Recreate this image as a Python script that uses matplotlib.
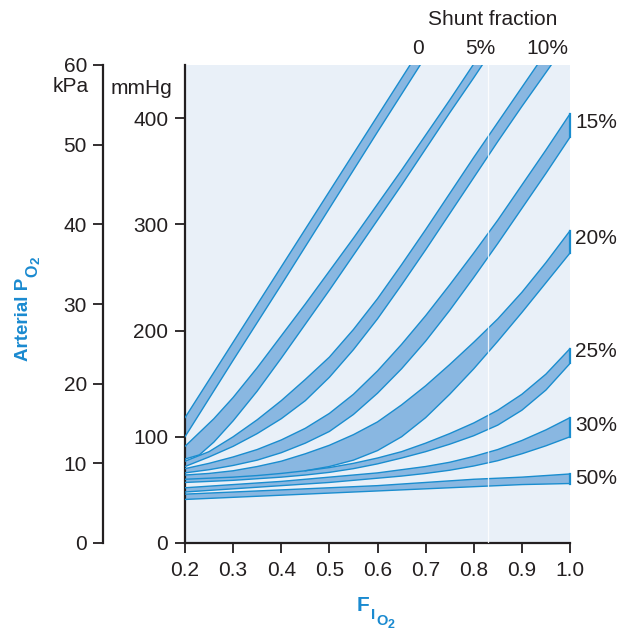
import numpy as np
import matplotlib
matplotlib.use("Agg")
import matplotlib.pyplot as plt

plt.rcParams['font.family'] = ['Liberation Sans', 'DejaVu Sans']

# inspired O2 fraction grids
FIO2 = [0.2, 0.3, 0.4, 0.5, 0.6, 0.7, 0.8, 0.9, 1.0]
FIO2_FINE = [0.2, 0.25, 0.3, 0.35, 0.4, 0.45, 0.5, 0.55, 0.6,
             0.65, 0.7, 0.75, 0.8, 0.85, 0.9, 0.95, 1.0]

# arterial PO2 (mmHg), upper and lower edge of each shunt band
shunt0_x = [0.2, 0.3, 0.4, 0.5, 0.6, 0.7]
shunt0_hi = [118, 189, 260, 331, 402, 473]
shunt0_lo = [100, 172, 243, 315, 387, 458]

shunt5_x = [0.2, 0.23, 0.26, 0.3, 0.35, 0.4, 0.45, 0.5, 0.55, 0.6, 0.65, 0.7, 0.75, 0.8, 0.85, 0.9]
shunt5_hi = [91, 104, 117, 137, 165, 195, 225, 256, 287, 319, 351, 384, 417, 451, 485, 520]
shunt5_lo = [79, 83, 95, 115, 143, 174, 206, 238, 271, 304, 337, 371, 405, 438, 472, 506]

shunt10_hi = [77, 86, 100, 116, 134, 154, 175, 201, 230, 262, 295, 329, 363, 396, 429, 462, 494]
shunt10_lo = [72, 81, 91, 103, 117, 134, 156, 182, 211, 243, 276, 310, 344, 378, 411, 443, 475]

shunt15_hi = [70, 75, 81, 88, 97, 108, 122, 140, 162, 187, 214, 243, 273, 304, 337, 370, 404]
shunt15_lo = [66, 69, 73, 78, 85, 94, 105, 121, 141, 164, 190, 219, 250, 282, 315, 348, 382]

shunt20_hi = [64, 65.5, 68, 72, 77, 84, 92, 102, 114, 130, 148, 168, 189, 211, 236, 264, 294]
shunt20_lo = [60, 61, 62, 63.5, 65.5, 68, 72, 78, 87, 100, 118, 140, 164, 190, 217, 245, 273]

shunt25_hi = [61, 62, 63, 64, 66, 68, 71, 75, 80, 86, 94, 103, 113, 125, 140, 159, 183]
shunt25_lo = [57, 58, 59, 60.5, 62, 64, 66.5, 70, 74.5, 80, 86, 93, 101, 111, 125, 144, 169]
# visible upper edge of the 25% band only starts here
shunt25_edge_x = [0.45, 0.5, 0.55, 0.6, 0.65, 0.7, 0.75, 0.8, 0.85, 0.9, 0.95, 1.0]
shunt25_edge_y = [68, 71, 75, 80, 86, 94, 103, 113, 125, 140, 159, 183]

shunt30_hi = [52, 53.5, 55, 56.5, 58, 60, 62, 64, 66, 69, 72, 76, 81.5, 88, 96.5, 106.5, 118]
shunt30_lo = [48, 49.5, 51, 52.5, 54, 55.5, 57, 59, 61, 63, 65.5, 68.5, 72.5, 77.5, 84, 91.5, 100]

shunt50_hi = [46, 48, 50, 52, 54, 57, 60, 62, 65]
shunt50_lo = [41, 43, 45, 47, 49, 51, 53, 55, 56]

top_labels = ['0', '5%', '10%']
top_label_x = [0.684, 0.813, 0.954]
right_labels = ['15%', '20%', '25%', '30%', '50%']
right_label_y = [396, 287, 180, 111, 61]

FILL = '#89B7E1'
EDGE = '#1A8DCF'
BG = '#E9F0F8'
INK = '#231F20'
LABEL = '#1A8AD0'
FS = 15

fig = plt.figure(figsize=(6.19, 6.30), dpi=100)
W, H = 619.0, 630.0
ax = fig.add_axes([185 / W, 1 - 543 / H, 385 / W, 478 / H])
ax.set_facecolor(BG)
ax.set_xlim(0.2, 1.0)
ax.set_ylim(0, 450)


def band(x, lo, hi, draw_hi=True):
    ax.fill_between(x, lo, hi, facecolor=FILL, edgecolor='none', zorder=2)
    ax.plot(x, lo, color=EDGE, lw=1.0, zorder=3, solid_joinstyle='round')
    if draw_hi:
        ax.plot(x, hi, color=EDGE, lw=1.0, zorder=3, solid_joinstyle='round')
    if x[-1] == 1.0 and hi[-1] < 450:
        ax.plot([1.0, 1.0], [lo[-1], hi[-1]], color=EDGE, lw=1.6, zorder=3, clip_on=False)


band(shunt0_x, shunt0_lo, shunt0_hi)
band(shunt5_x, shunt5_lo, shunt5_hi)
band(FIO2_FINE, shunt10_lo, shunt10_hi)
band(FIO2_FINE, shunt15_lo, shunt15_hi)
band(FIO2_FINE, shunt20_lo, shunt20_hi)
band(FIO2_FINE, shunt25_lo, shunt25_hi, draw_hi=False)
ax.plot(shunt25_edge_x, shunt25_edge_y, color=EDGE, lw=1.0, zorder=3)
band(FIO2_FINE, shunt30_lo, shunt30_hi)
band(FIO2, shunt50_lo, shunt50_hi)

# faint white seam through the bands
ax.axvline(0.83, color='white', lw=0.9, alpha=0.85, zorder=4)

for s in ['top', 'right']:
    ax.spines[s].set_visible(False)
for s in ['left', 'bottom']:
    ax.spines[s].set_linewidth(1.6)
    ax.spines[s].set_color(INK)
ax.set_xticks(FIO2)
ax.set_xticklabels(['0.2', '0.3', '0.4', '0.5', '0.6', '0.7', '0.8', '0.9', '1.0'])
ax.set_yticks([0, 100, 200, 300, 400])
ax.tick_params(axis='both', direction='out', length=7, width=1.3, color=INK,
               labelsize=FS, labelcolor=INK)
ax.tick_params(axis='x', pad=6)
ax.tick_params(axis='y', pad=5)

for lab, x in zip(top_labels, top_label_x):
    ax.text(x, 466, lab, ha='center', va='center', fontsize=FS, color=INK, clip_on=False)
ax.text(0.84, 493, 'Shunt fraction', ha='center', va='center', fontsize=FS, color=INK, clip_on=False)
for lab, y in zip(right_labels, right_label_y):
    ax.text(1.011, y, lab, ha='left', va='center', fontsize=FS, color=INK, clip_on=False)

# kPa axis
ax2 = fig.add_axes([103 / W, 1 - 543 / H, 0.0001, 478 / H])
ax2.set_ylim(0, 60)
ax2.patch.set_visible(False)
for s in ['top', 'right', 'bottom']:
    ax2.spines[s].set_visible(False)
ax2.spines['left'].set_linewidth(1.6)
ax2.spines['left'].set_color(INK)
ax2.set_xticks([])
ax2.set_yticks([0, 10, 20, 30, 40, 50, 60])
ax2.tick_params(axis='y', direction='out', length=7, width=1.3, color=INK,
                labelsize=FS, labelcolor=INK, pad=4.5)

fig.text(71 / W, 1 - 86 / H, 'kPa', ha='center', va='center', fontsize=FS, color=INK)
fig.text(141 / W, 1 - 88 / H, 'mmHg', ha='center', va='center', fontsize=FS, color=INK)

# axis titles built from pieces so the subscripts keep a readable size
fig.canvas.draw()
rend = fig.canvas.get_renderer()

t1 = fig.text(28 / W, 1 - 361 / H, 'Arterial P', rotation=90, rotation_mode='anchor',
              ha='left', va='baseline', fontsize=13.5, fontweight='bold', color=LABEL)
top = t1.get_window_extent(rend).y1
t2 = fig.text(37 / W, (top + 1) / H, 'O', rotation=90, rotation_mode='anchor',
              ha='left', va='baseline', fontsize=11.5, fontweight='bold', color=LABEL)
top = t2.get_window_extent(rend).y1
fig.text(40 / W, (top + 0.5) / H, '2', rotation=90, rotation_mode='anchor',
         ha='left', va='baseline', fontsize=9.5, fontweight='bold', color=LABEL)

f1 = fig.text(357 / W, 1 - 611 / H, 'F', ha='left', va='baseline', fontsize=FS,
              fontweight='bold', color=LABEL)
right = f1.get_window_extent(rend).x1
f2 = fig.text((right + 1) / W, 1 - 619 / H, 'I', ha='left', va='baseline', fontsize=11,
              fontweight='bold', color=LABEL)
right = f2.get_window_extent(rend).x1
f3 = fig.text((right + 1) / W, 1 - 625 / H, 'O', ha='left', va='baseline', fontsize=10.5,
              fontweight='bold', color=LABEL)
right = f3.get_window_extent(rend).x1
fig.text((right + 0.5) / W, 1 - 627.5 / H, '2', ha='left', va='baseline', fontsize=9,
         fontweight='bold', color=LABEL)

fig.savefig('out.png', dpi=100)
